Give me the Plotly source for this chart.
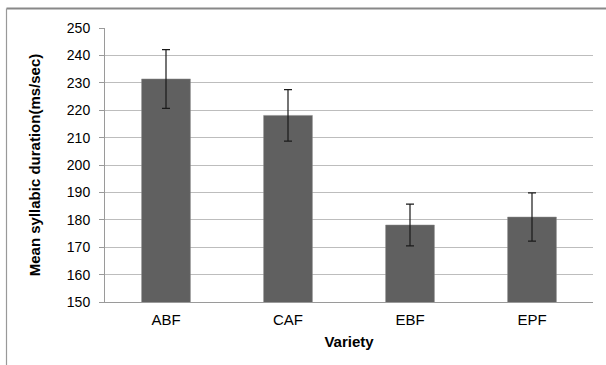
import plotly.graph_objects as go

categories = ["ABF", "CAF", "EBF", "EPF"]
means = [231.4, 218.1, 178.1, 181.0]
errors = [10.7, 9.4, 7.6, 8.8]
y_ticks = list(range(150, 251, 10))

W, H = 606, 365
L, R, T, B = 105, 13, 28, 63
pw, ph = W - L - R, H - T - B

fig = go.Figure(go.Bar(
    x=categories, y=means,
    marker=dict(color="#606060", line=dict(color="#8a8a8a", width=0.5)),
    error_y=dict(type="data", array=errors, visible=True, color="#1a1a1a", thickness=1.2, width=4),
    width=0.4,
))

font = "Liberation Sans, Arial, sans-serif"
fig.update_layout(
    width=W, height=H,
    margin=dict(l=L, r=R, t=T, b=B),
    paper_bgcolor="white", plot_bgcolor="white",
    font=dict(family=font, size=14, color="#000000"),
    showlegend=False,
    xaxis=dict(
        showline=True, linecolor="#9a9a9a", linewidth=1, ticks="",
        tickfont=dict(size=15), showgrid=False, ticklabelstandoff=4,
        title=dict(text="<b>Variety</b>", font=dict(size=15), standoff=9),
    ),
    yaxis=dict(
        range=[150, 250], tickvals=y_ticks, showline=True, linecolor="#9a9a9a", linewidth=1,
        ticks="outside", ticklen=5, tickcolor="#9a9a9a", ticklabelstandoff=6,
        gridcolor="#bdbdbd", gridwidth=1, tickfont=dict(size=14),
        title=dict(text="<b>Mean syllabic duration(ms/sec)</b>", font=dict(size=15), standoff=22),
        zeroline=False,
    ),
    shapes=[
        dict(type="line", xref="paper", yref="paper",
             x0=(6.5 - L) / pw, x1=(W + 5 - L) / pw,
             y0=1 + (T - 8.5) / ph, y1=1 + (T - 8.5) / ph,
             line=dict(color="#888888", width=2)),
        dict(type="line", xref="paper", yref="paper",
             x0=(6.5 - L) / pw, x1=(6.5 - L) / pw,
             y0=1 + (T - 8.5) / ph, y1=-(B + 5) / ph,
             line=dict(color="#999999", width=1.2)),
    ],
)

fig.write_html("out.html", config={"displayModeBar": False},
               post_script="document.body.style.margin='0';")
